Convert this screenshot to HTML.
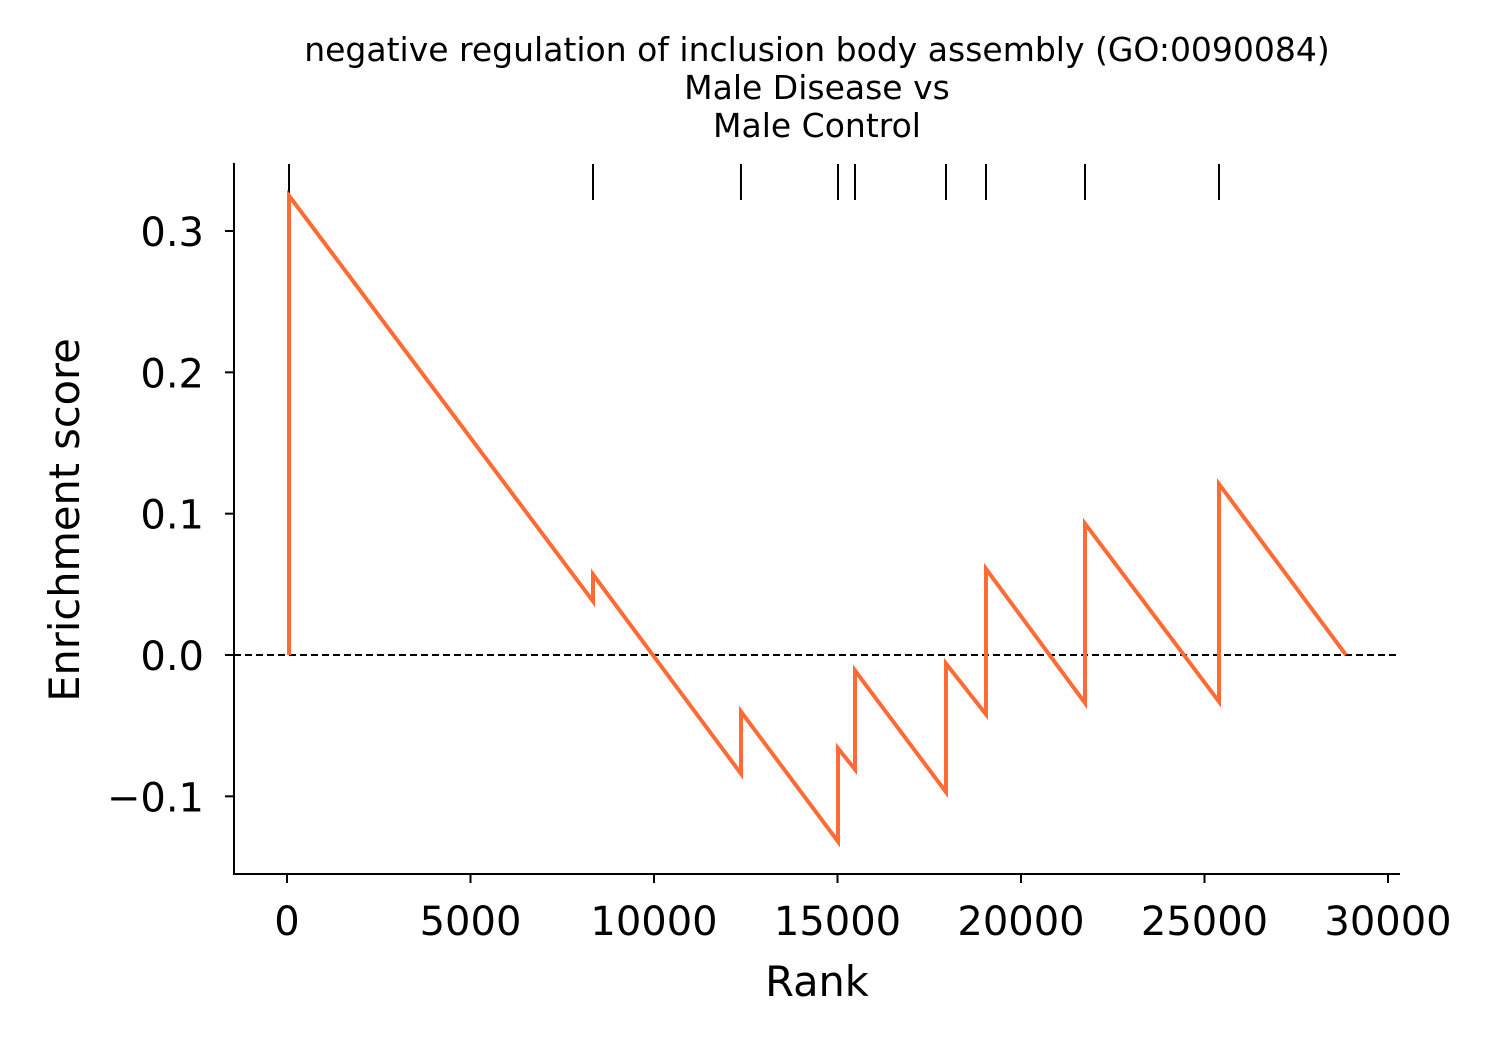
<!DOCTYPE html>
<html><head><meta charset="utf-8">
<style>
html,body{margin:0;padding:0;background:#fff;}
svg{display:block;font-family:"DejaVu Sans","Liberation Sans",sans-serif;}
</style></head>
<body>
<svg id="chart" width="1500" height="1050" viewBox="0 0 1500 1050">
<g id="title" font-size="33" text-anchor="middle" fill="#000">
<text x="817" y="61">negative regulation of inclusion body assembly (GO:0090084)</text>
<text x="817" y="99">Male Disease vs</text>
<text x="817" y="137">Male Control</text>
</g>
<g id="axes"></g>
<g id="marks"></g>
<text x="817" y="996" font-size="41.5" text-anchor="middle">Rank</text>
<text transform="translate(79,520) rotate(-90)" font-size="41.5" text-anchor="middle">Enrichment score</text>
</svg>
<script>
const hitRanks = [55, 8338, 12370, 15014, 15477, 17956, 19046, 21744, 25395];
const esBefore = [0, 0.038, -0.084, -0.132, -0.081, -0.097, -0.042, -0.034, -0.033];
const esAfter = [0.325, 0.057, -0.040, -0.066, -0.011, -0.006, 0.061, 0.093, 0.121];
const endRank = 28856;
const endES = 0;
const xTicks = [0, 5000, 10000, 15000, 20000, 25000, 30000];
const yTicks = [-0.1, 0.0, 0.1, 0.2, 0.3];
const yTickLabels = ["\u22120.1", "0.0", "0.1", "0.2", "0.3"];

const NS = "http://www.w3.org/2000/svg";
const X = v => 287 + v * (1101 / 30000);
const Y = v => 655 - v * (424 / 0.3);
const L = 234, R = 1400, T = 163, B = 874;
function mk(tag, attrs, parent) {
  const e = document.createElementNS(NS, tag);
  for (const k in attrs) e.setAttribute(k, attrs[k]);
  parent.appendChild(e);
  return e;
}
const axes = document.getElementById('axes');
const marks = document.getElementById('marks');

let sp = mk('line', {x1: L, y1: T, x2: L, y2: B + 1, stroke: '#000', 'stroke-width': 2}, axes);


sp = mk('line', {x1: L - 1, y1: B, x2: R, y2: B, stroke: '#000', 'stroke-width': 2}, axes);



xTicks.forEach(t => {
  const x = X(t);
  const tk = mk('line', {x1: x, y1: B, x2: x, y2: B + 9, stroke: '#000', 'stroke-width': 2}, axes);
  
  
  const tx = mk('text', {x: x, y: 935, 'font-size': 40, 'text-anchor': 'middle'}, axes);
  tx.textContent = String(t);
  
  
});
yTicks.forEach((t, i) => {
  const y = Y(t);
  const tk = mk('line', {x1: L - 9, y1: y, x2: L, y2: y, stroke: '#000', 'stroke-width': 2}, axes);
  
  
  const tx = mk('text', {x: L - 30, y: y + 15, 'font-size': 40, 'text-anchor': 'end'}, axes);
  tx.textContent = yTickLabels[i];
  
  
});

const zl = mk('line', {x1: L, y1: Y(0), x2: 1396, y2: Y(0), stroke: '#000', 'stroke-width': 2, 'stroke-dasharray': '7,4'}, marks);



hitRanks.forEach(r => {
  const h = mk('line', {x1: X(r), y1: 164, x2: X(r), y2: 200, stroke: '#000', 'stroke-width': 2}, marks);
  
  
});

let d = '';
hitRanks.forEach((r, i) => {
  d += (i === 0 ? 'M' : 'L') + X(r) + ',' + Y(esBefore[i]) + ' L' + X(r) + ',' + Y(esAfter[i]) + ' ';
});
d += 'L' + X(endRank) + ',' + Y(endES);
const p = mk('path', {d: d, fill: 'none', stroke: '#ff6b35', 'stroke-width': 4, 'stroke-linejoin': 'miter'}, marks);


</script>
</body></html>
